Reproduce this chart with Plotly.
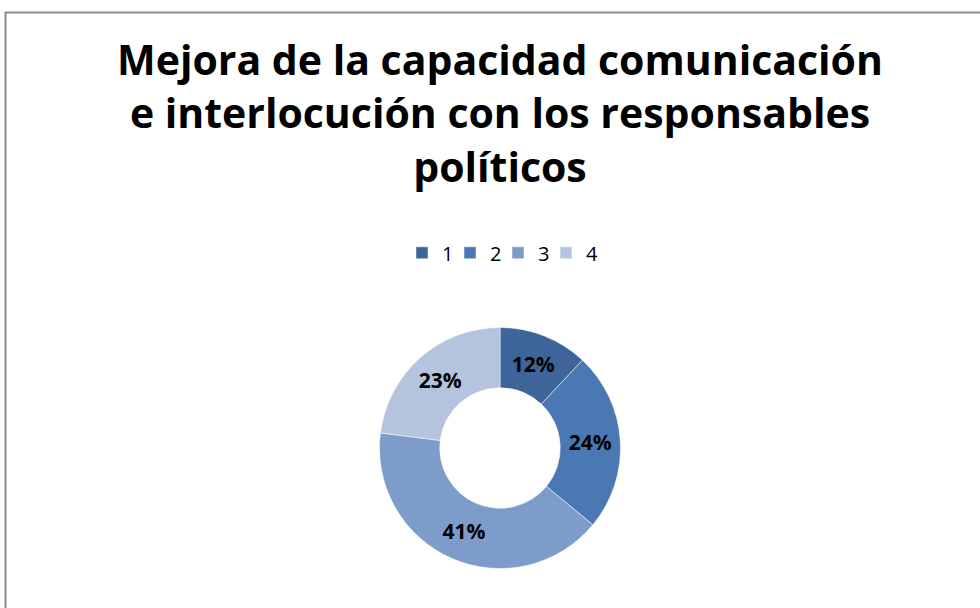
import plotly.graph_objects as go

categories = ["1", "2", "3", "4"]
values = [12, 24, 41, 23]
colors = ["#3D6599", "#4A78B3", "#7E9CCA", "#B4C3DE"]
title_text = "Mejora de la capacidad comunicación<br>e interlocución con los responsables<br>políticos"

W, H = 980, 608
cx, cy, r = 500, 448, 120.5

fig = go.Figure(go.Pie(
    labels=categories,
    values=values,
    hole=0.5,
    sort=False,
    direction="clockwise",
    rotation=0,
    marker=dict(colors=colors, line=dict(color="#FFFFFF", width=0.5)),
    textinfo="percent",
    texttemplate="%{percent:.0%}",
    textposition="inside",
    insidetextorientation="horizontal",
    textfont=dict(family="Open Sans", size=21, color="#000000", weight="bold"),
    domain=dict(x=[(cx - r) / W, (cx + r) / W], y=[1 - (cy + r) / H, 1 - (cy - r) / H]),
    showlegend=True,
))

fig.update_layout(
    width=W, height=H,
    margin=dict(l=0, r=0, t=0, b=0),
    paper_bgcolor="#FFFFFF",
    plot_bgcolor="#FFFFFF",
    title=dict(
        text=title_text,
        x=500 / W, xanchor="center",
        y=1 - 75 / H, yanchor="top",
        font=dict(family="Open Sans", size=41, color="#000000", weight="bold"),
    ),
    legend=dict(
        orientation="h",
        x=402 / W, xanchor="left",
        y=1 - 249 / H, yanchor="middle",
        font=dict(family="Open Sans", size=20, color="#000000"),
        itemwidth=30,
        entrywidth=3,
        entrywidthmode="pixels",
        title=dict(text="\u00a0" * 150, side="top", font=dict(size=6)),
        bgcolor="rgba(0,0,0,0)",
        traceorder="normal",
    ),
    shapes=[dict(
        type="rect", xref="paper", yref="paper",
        x0=5.5 / W, y0=1 - 12.5 / H, x1=1.05, y1=-0.05,
        line=dict(color="#8C8C8C", width=2),
        fillcolor="rgba(0,0,0,0)",
    )],
)

fig.write_html("out.html", config={"displayModeBar": False},
               post_script="document.body.style.margin='0px';")
